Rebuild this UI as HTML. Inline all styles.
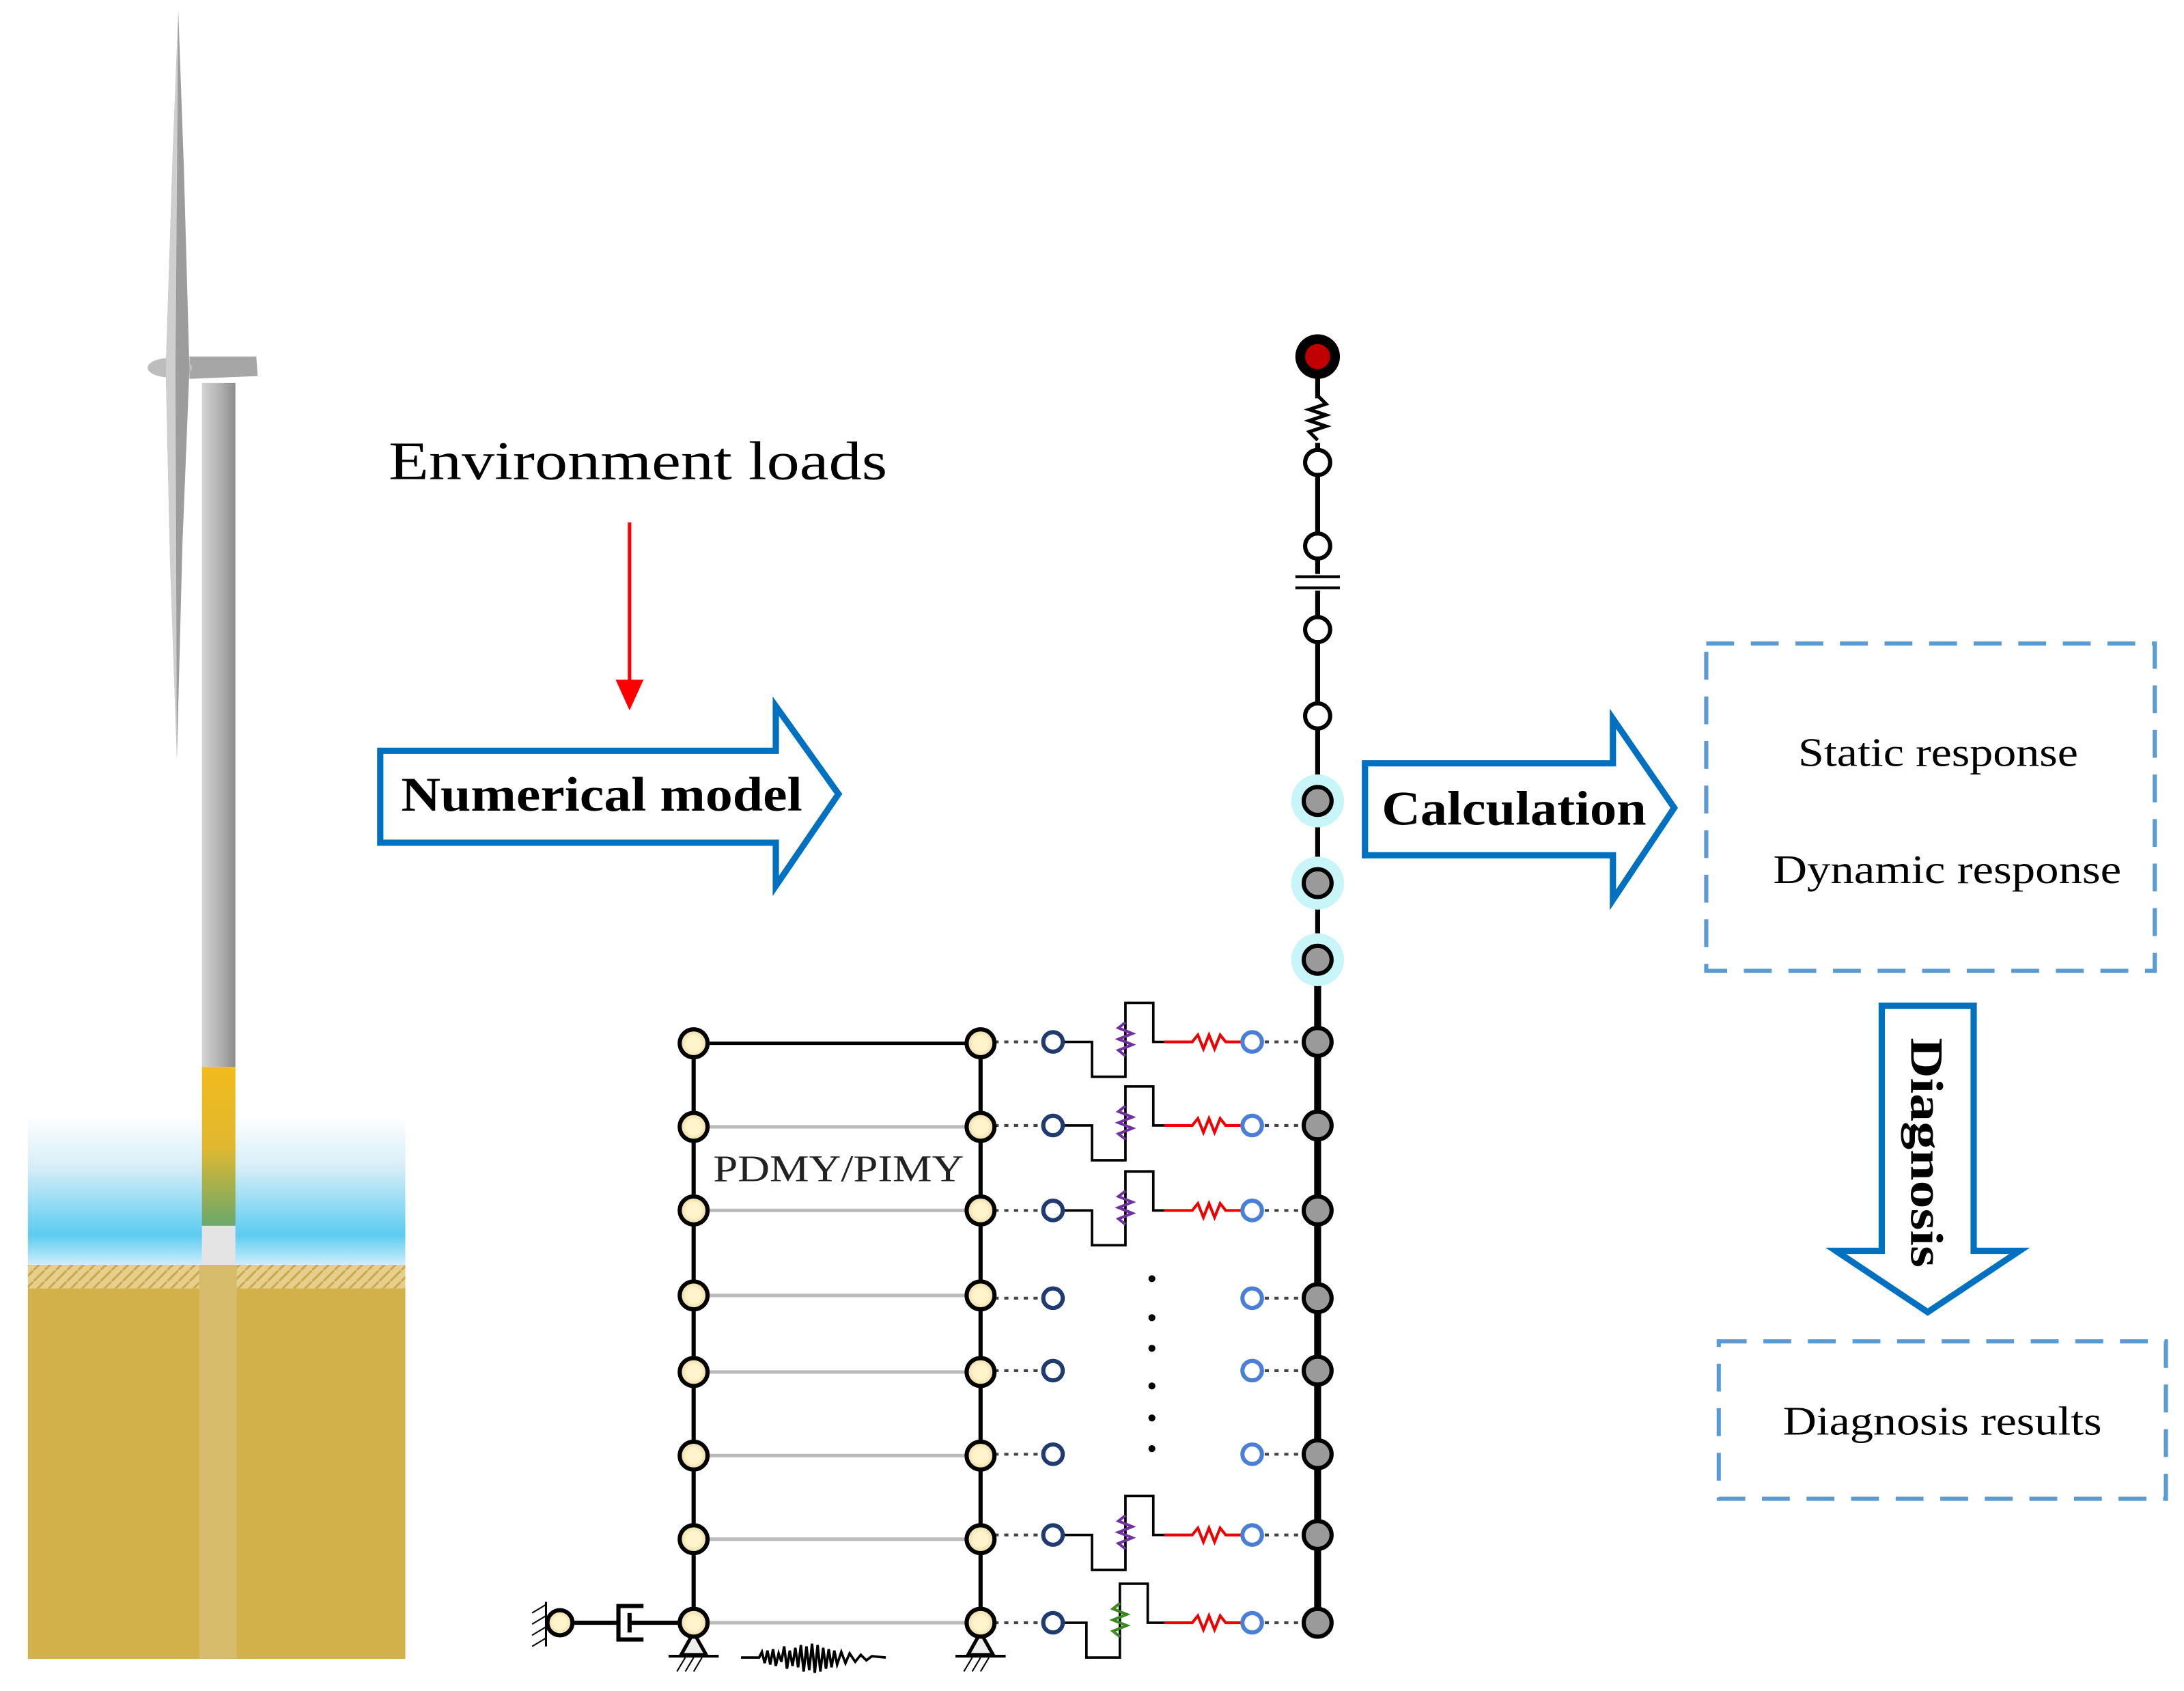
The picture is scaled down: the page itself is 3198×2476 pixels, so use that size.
<!DOCTYPE html>
<html><head><meta charset="utf-8"><style>html,body{margin:0;padding:0;background:#fff}svg{display:block}</style></head>
<body>
<svg width="3198" height="2476" viewBox="0 0 1568 1214" preserveAspectRatio="none" xmlns="http://www.w3.org/2000/svg" font-family="'Liberation Serif', serif">
<defs>
<linearGradient id="water" x1="0" y1="0" x2="0" y2="1">
<stop offset="0" stop-color="#fff"/><stop offset="0.35" stop-color="#d6eef8"/><stop offset="0.8" stop-color="#5ccbf0"/><stop offset="1" stop-color="#cdeefa"/></linearGradient>
<linearGradient id="tower" x1="0" y1="0" x2="1" y2="0">
<stop offset="0" stop-color="#d4d4d4"/><stop offset="0.5" stop-color="#b4b4b4"/><stop offset="1" stop-color="#8c8c8c"/></linearGradient>
<linearGradient id="band" x1="0" y1="0" x2="0" y2="1">
<stop offset="0" stop-color="#f2bb1c"/><stop offset="0.5" stop-color="#e0b830"/><stop offset="1" stop-color="#6aa86a"/></linearGradient>
<radialGradient id="nodeY"><stop offset="0.5" stop-color="#fff4cc"/><stop offset="1" stop-color="#e8d7a0"/></radialGradient>
<pattern id="hatch" width="8" height="8" patternUnits="userSpaceOnUse"><rect width="8" height="8" fill="#e6cf8c"/><path d="M0 8L8 0" stroke="#c9a94a" stroke-width="1.5"/></pattern>
<g id="sp">
<path d="M763 0 L784 0 L784 25 L808 25 L808 -28 L828 -28 L828 0 L836 0" fill="none" stroke="#000" stroke-width="1.8"/>
<path d="M808 10 L803 6 L813 2 L803 -2 L813 -6 L803 -10 L808 -14" fill="none" stroke="#7030a0" stroke-width="2"/>
<path d="M836 0 L856 0 L860 -5 L864 5 L868 -5 L872 5 L876 -5 L880 0 L892 0" fill="none" stroke="#e00" stroke-width="2"/>
</g>
</defs>
<!-- turbine -->
<rect x="20" y="800" width="271" height="108" fill="url(#water)"/>
<rect x="20" y="908" width="271" height="17" fill="url(#hatch)"/>
<rect x="20" y="925" width="271" height="266" fill="#d2b04a"/>
<rect x="143" y="908" width="27" height="283" fill="#d6bb6a"/>
<rect x="145" y="275" width="24" height="491" fill="url(#tower)"/>
<rect x="145" y="766" width="24" height="114" fill="url(#band)"/>
<rect x="145" y="880" width="24" height="28" fill="#e4e4e4"/>
<path d="M136 256 L184 256 L185 270 L136 272 Z" fill="#a6a6a6"/>
<ellipse cx="122" cy="264" rx="16" ry="7" fill="#bdbdbd"/>
<path d="M128 8 L132 120 L136 265 L131 390 L127 545 L122 400 L119 265 L124 110 Z" fill="#9c9c9c"/>
<path d="M128 8 L124 110 L119 265 L122 400 L127 545 L126 265 Z" fill="#cfcfcf"/>
<!-- environment loads -->
<text x="279" y="344" font-size="39" textLength="358" lengthAdjust="spacingAndGlyphs">Environment loads</text>
<line x1="452" y1="375" x2="452" y2="490" stroke="#f00" stroke-width="2.5"/>
<path d="M442 488 L462 488 L452 510 Z" fill="#f00"/>
<!-- numerical model arrow -->
<path d="M273 539 L557 539 L557 507 L602 570 L557 636 L557 605 L273 605 Z" fill="#fff" stroke="#0070c0" stroke-width="4.5"/>
<text x="288" y="582" font-size="35" font-weight="bold" textLength="288" lengthAdjust="spacingAndGlyphs">Numerical model</text>
<!-- calculation arrow -->
<path d="M980 548 L1158 548 L1158 516 L1202 580 L1158 646 L1158 614 L980 614 Z" fill="#fff" stroke="#0070c0" stroke-width="4.5"/>
<text x="992" y="592" font-size="35" font-weight="bold" textLength="190" lengthAdjust="spacingAndGlyphs">Calculation</text>
<!-- dashed boxes -->
<rect x="1225" y="462" width="322" height="235" fill="none" stroke="#5b9bd5" stroke-width="3" stroke-dasharray="20 12"/>
<text x="1291" y="550" font-size="29" textLength="201" lengthAdjust="spacingAndGlyphs">Static response</text>
<text x="1273" y="634" font-size="29" textLength="250" lengthAdjust="spacingAndGlyphs">Dynamic response</text>
<rect x="1234" y="963" width="321" height="113" fill="none" stroke="#5b9bd5" stroke-width="3" stroke-dasharray="20 12"/>
<text x="1280" y="1030" font-size="29" textLength="229" lengthAdjust="spacingAndGlyphs">Diagnosis results</text>
<!-- diagnosis arrow -->
<path d="M1351 722 L1417 722 L1417 898 L1450 898 L1384 942 L1318 898 L1351 898 Z" fill="#fff" stroke="#0070c0" stroke-width="4.5"/>
<text transform="translate(1372,745) rotate(90)" font-size="33" font-weight="bold" textLength="165" lengthAdjust="spacingAndGlyphs">Diagnosis</text>
<!-- pile column -->
<line x1="946" y1="270" x2="946" y2="700" stroke="#000" stroke-width="3.5"/>
<line x1="946" y1="700" x2="946" y2="1165" stroke="#000" stroke-width="5"/>
<rect x="940" y="286" width="12" height="32" fill="#fff"/>
<path d="M946 284 L952 290 L940 294 L952 298 L940 302 L952 306 L940 310 L946 316" fill="none" stroke="#000" stroke-width="2.5"/>
<rect x="938" y="412" width="16" height="12" fill="#fff"/>
<line x1="930" y1="414" x2="962" y2="414" stroke="#000" stroke-width="2"/>
<line x1="930" y1="422" x2="962" y2="422" stroke="#000" stroke-width="2"/>
<circle cx="946" cy="256" r="16" fill="#000"/><circle cx="946" cy="256" r="9" fill="#c00000"/>
<g fill="#fff" stroke="#000" stroke-width="3">
<circle cx="946" cy="332" r="9"/><circle cx="946" cy="392" r="9"/><circle cx="946" cy="452" r="9"/><circle cx="946" cy="514" r="9"/></g>
<g><circle cx="946" cy="575" r="19" fill="#c8f6f8"/><circle cx="946" cy="634" r="19" fill="#c8f6f8"/><circle cx="946" cy="689" r="19" fill="#c8f6f8"/></g>
<g fill="#9a9a9a" stroke="#000" stroke-width="3">
<circle cx="946" cy="575" r="10"/><circle cx="946" cy="634" r="10"/><circle cx="946" cy="689" r="10"/>
<circle cx="946" cy="748" r="10"/><circle cx="946" cy="808" r="10"/><circle cx="946" cy="869" r="10"/><circle cx="946" cy="932" r="10"/><circle cx="946" cy="984" r="10"/><circle cx="946" cy="1044" r="10"/><circle cx="946" cy="1102" r="10"/><circle cx="946" cy="1165" r="10"/></g>
<!-- frame -->
<g stroke="#bbb" stroke-width="2.5">
<line x1="498" y1="809" x2="704" y2="809"/><line x1="498" y1="869" x2="704" y2="869"/><line x1="498" y1="930" x2="704" y2="930"/><line x1="498" y1="985" x2="704" y2="985"/><line x1="498" y1="1045" x2="704" y2="1045"/><line x1="498" y1="1105" x2="704" y2="1105"/><line x1="498" y1="1165" x2="704" y2="1165"/></g>
<line x1="498" y1="749" x2="704" y2="749" stroke="#000" stroke-width="2.5"/>
<line x1="498" y1="749" x2="498" y2="1165" stroke="#000" stroke-width="3"/>
<line x1="704" y1="749" x2="704" y2="1165" stroke="#000" stroke-width="3"/>
<text x="512" y="848" font-size="27" fill="#222" textLength="180" lengthAdjust="spacingAndGlyphs">PDMY/PIMY</text>
<!-- dotted links -->
<g stroke="#444" stroke-width="2" stroke-dasharray="3 4">
<line x1="714" y1="748" x2="748" y2="748"/><line x1="714" y1="808" x2="748" y2="808"/><line x1="714" y1="869" x2="748" y2="869"/><line x1="714" y1="932" x2="748" y2="932"/><line x1="714" y1="984" x2="748" y2="984"/><line x1="714" y1="1044" x2="748" y2="1044"/><line x1="714" y1="1102" x2="748" y2="1102"/><line x1="714" y1="1165" x2="748" y2="1165"/>
<line x1="908" y1="748" x2="936" y2="748"/><line x1="908" y1="808" x2="936" y2="808"/><line x1="908" y1="869" x2="936" y2="869"/><line x1="908" y1="932" x2="936" y2="932"/><line x1="908" y1="984" x2="936" y2="984"/><line x1="908" y1="1044" x2="936" y2="1044"/><line x1="908" y1="1102" x2="936" y2="1102"/><line x1="908" y1="1165" x2="936" y2="1165"/></g>
<!-- spring assemblies -->
<use href="#sp" y="748"/><use href="#sp" y="808"/><use href="#sp" y="869"/><use href="#sp" y="1102"/>
<g transform="translate(-4,1165)">
<path d="M767 0 L784 0 L784 25 L808 25 L808 -28 L828 -28 L828 0 L840 0" fill="none" stroke="#000" stroke-width="1.8"/>
<path d="M808 10 L803 6 L813 2 L803 -2 L813 -6 L803 -10 L808 -14" fill="none" stroke="#3a8a20" stroke-width="2"/>
<path d="M840 0 L860 0 L864 -5 L868 5 L872 -5 L876 5 L880 -5 L884 0 L896 0" fill="none" stroke="#e00" stroke-width="2"/>
</g>
<g fill="#fff" stroke="#1f3b70" stroke-width="3">
<circle cx="756" cy="748" r="7"/><circle cx="756" cy="808" r="7"/><circle cx="756" cy="869" r="7"/><circle cx="756" cy="932" r="7"/><circle cx="756" cy="984" r="7"/><circle cx="756" cy="1044" r="7"/><circle cx="756" cy="1102" r="7"/><circle cx="756" cy="1165" r="7"/></g>
<g fill="#fff" stroke="#4a7fd8" stroke-width="3">
<circle cx="899" cy="748" r="7"/><circle cx="899" cy="808" r="7"/><circle cx="899" cy="869" r="7"/><circle cx="899" cy="932" r="7"/><circle cx="899" cy="984" r="7"/><circle cx="899" cy="1044" r="7"/><circle cx="899" cy="1102" r="7"/><circle cx="899" cy="1165" r="7"/></g>
<g fill="#000"><circle cx="827" cy="918" r="2.5"/><circle cx="827" cy="946" r="2.5"/><circle cx="827" cy="968" r="2.5"/><circle cx="827" cy="995" r="2.5"/><circle cx="827" cy="1018" r="2.5"/><circle cx="827" cy="1040" r="2.5"/></g>
<!-- supports, damper, seismic -->
<path d="M489 1188 L498 1172 L507 1188 Z" fill="#eee" stroke="#000" stroke-width="2.5"/>
<path d="M695 1188 L704 1172 L713 1188 Z" fill="#eee" stroke="#000" stroke-width="2.5"/>
<line x1="480" y1="1189" x2="516" y2="1189" stroke="#000" stroke-width="2"/>
<line x1="686" y1="1189" x2="722" y2="1189" stroke="#000" stroke-width="2"/>
<path d="M486 1200 L492 1190 M492 1200 L498 1190 M498 1200 L504 1190 M692 1200 L698 1190 M698 1200 L704 1190 M704 1200 L710 1190" stroke="#000" stroke-width="1"/>
<line x1="402" y1="1165" x2="444" y2="1165" stroke="#000" stroke-width="3"/>
<path d="M462 1153 L444 1153 L444 1177 L462 1177" fill="none" stroke="#000" stroke-width="3"/>
<line x1="452" y1="1158" x2="452" y2="1172" stroke="#000" stroke-width="3"/>
<line x1="452" y1="1165" x2="490" y2="1165" stroke="#000" stroke-width="3"/>
<line x1="392" y1="1150" x2="392" y2="1182" stroke="#000" stroke-width="1.5"/>
<path d="M382 1158 L392 1152 M382 1166 L392 1160 M382 1174 L392 1168 M382 1182 L392 1176" stroke="#000" stroke-width="1"/>
<path d="M532 1190 L545 1190 L547 1186 L549 1194 L551 1185 L553 1195 L555 1184 L557 1196 L559 1187 L561 1193 L563 1182 L565 1198 L567 1185 L569 1196 L571 1183 L573 1197 L575 1181 L577 1200 L579 1182 L581 1199 L583 1180 L585 1201 L587 1181 L589 1200 L591 1183 L593 1198 L595 1184 L597 1197 L599 1185 L601 1195 L604 1186 L607 1194 L610 1187 L614 1193 L618 1188 L622 1192 L626 1189 L636 1190" fill="none" stroke="#000" stroke-width="1.8"/>
<g fill="url(#nodeY)" stroke="#000" stroke-width="3">
<circle cx="498" cy="749" r="10"/><circle cx="498" cy="809" r="10"/><circle cx="498" cy="869" r="10"/><circle cx="498" cy="930" r="10"/><circle cx="498" cy="985" r="10"/><circle cx="498" cy="1045" r="10"/><circle cx="498" cy="1105" r="10"/><circle cx="498" cy="1165" r="10"/>
<circle cx="704" cy="749" r="10"/><circle cx="704" cy="809" r="10"/><circle cx="704" cy="869" r="10"/><circle cx="704" cy="930" r="10"/><circle cx="704" cy="985" r="10"/><circle cx="704" cy="1045" r="10"/><circle cx="704" cy="1105" r="10"/><circle cx="704" cy="1165" r="10"/>
<circle cx="402" cy="1165" r="9"/></g>
</svg>
</body></html>
